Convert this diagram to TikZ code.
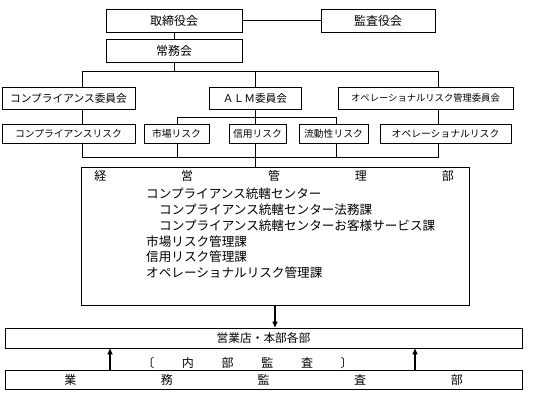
\documentclass[tikz,border=0pt]{standalone}
\usepackage{fontspec}
\newfontfamily\jpfont{Noto Sans CJK JP}
\usetikzlibrary{arrows.meta,positioning}
\begin{document}
\begin{tikzpicture}[x=1pt, y=-1pt, node distance=15.8pt,
		box/.style = {draw, line width=0.9pt, inner sep=0pt, font=\jpfont\fontsize{12}{14}\selectfont},
		mid/.style = {font=\jpfont\fontsize{10.7}{12}\selectfont},
		small/.style = {font=\jpfont\fontsize{9.8}{11}\selectfont},
		txt/.style = {inner sep=0pt, anchor=west, font=\jpfont\fontsize{12.6}{14}\selectfont},
		arr/.style = {line width=1.6pt, -{Triangle[length=6pt,width=5pt]}}]
		\useasboundingbox (0,0) rectangle (554,400);
		\node[box, minimum width=136pt, minimum height=23pt] (1) at (174,20.5) {取締役会};
		\node[box, minimum width=114pt, minimum height=23pt] (2) at (378,20.5) {監査役会};
		\node[box, minimum width=136pt, minimum height=23pt] (3) at (174,50.5) {常務会};
		\node[box, mid, minimum width=133pt, minimum height=22pt] (4) at (68.5,98) {コンプライアンス委員会};
		\node[box, mid, minimum width=92pt, minimum height=22pt] (5) at (255,98) {ＡＬＭ委員会};
		\node[box, minimum width=175pt, minimum height=22pt, font=\jpfont\fontsize{9.3}{11}\selectfont] (6) at (425.5,98) {オペレーショナルリスク管理委員会};
		\node[box, small, minimum width=133pt, minimum height=19pt] (7) at (68.5,133.5) {コンプライアンスリスク};
		\node[box, small, minimum width=65pt, minimum height=19pt] (8) at (176.5,133.5) {市場リスク};
		\node[box, small, minimum width=57pt, minimum height=19pt] (9) at (257.5,133.5) {信用リスク};
		\node[box, small, minimum width=69pt, minimum height=19pt] (10) at (333.5,133.5) {流動性リスク};
		\node[box, small, minimum width=131pt, minimum height=19pt] (11) at (445.5,133.5) {オペレーショナルリスク};
		\node[box, minimum width=388pt, minimum height=138pt] (12) at (275,236) {};
		\node[txt, anchor=center, font=\jpfont\fontsize{12}{14}\selectfont] (13) at (274,176) {\makebox[359.5pt]{経\hfill 営\hfill 管\hfill 理\hfill 部}};
		\node[txt] (14) at (146,194) {コンプライアンス統轄センター};
		\node[txt, below=of 14.west, anchor=west, xshift=13pt] (15) {コンプライアンス統轄センター法務課};
		\node[txt, below=of 15.west, anchor=west] (16) {コンプライアンス統轄センターお客様サービス課};
		\node[txt, below=of 16.west, anchor=west, xshift=-13pt] (17) {市場リスク管理課};
		\node[txt, below=of 17.west, anchor=west] (18) {信用リスク管理課};
		\node[txt, below=of 18.west, anchor=west] (19) {オペレーショナルリスク管理課};
		\node[box, minimum width=517pt, minimum height=20pt, font=\jpfont\fontsize{11.7}{13}\selectfont] (20) at (263.5,338) {営業店・本部各部};
		\node[txt, anchor=center, font=\jpfont\fontsize{12}{14}\selectfont] (21) at (247.5,363) {\makebox[210.5pt]{〔\hfill 内\hfill 部\hfill 監\hfill 査\hfill 〕}};
		\node[box, minimum width=517pt, minimum height=19pt] (22) at (263.5,379.5) {\makebox[398.5pt]{業\hfill 務\hfill 監\hfill 査\hfill 部}};
		\coordinate (a) at (82,0);
		\coordinate (b) at (177,0);
		\coordinate (c) at (255,0);
		\coordinate (d) at (336,0);
		\coordinate (e) at (438,0);
		\coordinate (y1) at (0,71);
		\coordinate (y2) at (0,117);
		\coordinate (y3) at (0,157);
		\coordinate (u1) at (110,0);
		\coordinate (u2) at (415,0);
		\draw (1) -- (2);
		\draw (1) -- (3);
		\draw (3.south) -- (3.south |- y1);
		\draw (a |- 4.north) -- (a |- y1) -- (e |- y1) -- (e |- 6.north);
		\draw (c |- y1) -- (c |- 5.north);
		\draw (a |- 4.south) -- (a |- 7.north);
		\draw (e |- 6.south) -- (e |- 11.north);
		\draw (c |- 5.south) -- (c |- y2);
		\draw (b |- 8.north) -- (b |- y2) -- (d |- y2) -- (d |- 10.north);
		\draw (c |- y2) -- (c |- 9.north);
		\draw (a |- 7.south) -- (a |- y3) -- (e |- y3) -- (e |- 11.south);
		\draw (b |- 8.south) -- (b |- y3);
		\draw (c |- 9.south) -- (c |- y3);
		\draw (d |- 10.south) -- (d |- y3);
		\draw (c |- y3) -- (c |- 12.north);
		\draw[arr] (12.south) -- (12.south |- 20.north);
		\draw[arr] (u1 |- 22.north) -- (u1 |- 20.south);
		\draw[arr] (u2 |- 22.north) -- (u2 |- 20.south);
	\end{tikzpicture}
\end{document}
